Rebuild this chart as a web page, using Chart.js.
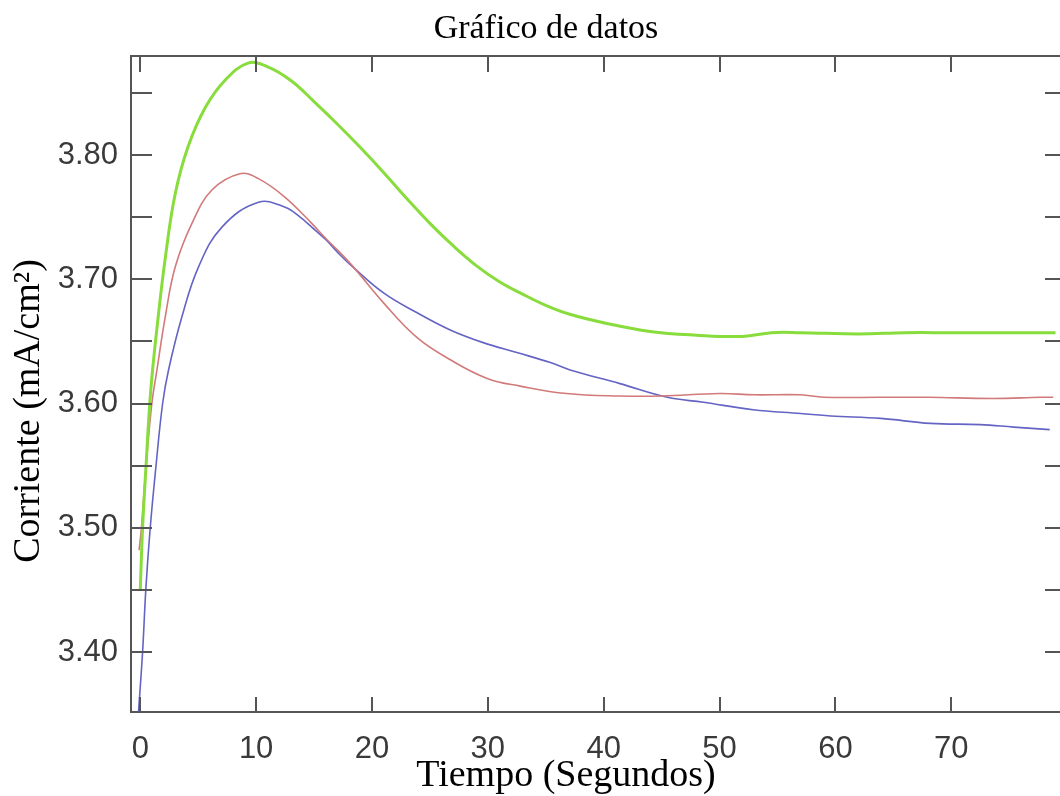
<!DOCTYPE html>
<html lang="es">
<head>
    <meta charset="UTF-8">
    <title>Gráfico de datos</title>
    <script src="https://cdn.jsdelivr.net/npm/chart.js@4.4.0/dist/chart.umd.js"></script>
    <style>
        html, body { margin: 0; padding: 0; background: #fff; }
        #wrap { width: 1060px; height: 796px; }
    </style>
</head>
<body>
    <div id="wrap"><canvas id="chart" width="1060" height="796"></canvas></div>

    <script>
        // Data
        const greenTime = [0, 0.2, 0.5, 0.9, 1.55, 2.2, 3.0, 4.1, 5.6, 7.3, 9.3, 11, 13, 15, 17, 19, 21, 23, 25, 27, 29, 31, 33, 35, 37, 40, 44, 48, 52, 54.5, 57, 62, 66, 70, 74, 79];
        const greenCurrent = [3.45, 3.50, 3.55, 3.61, 3.67, 3.72, 3.768, 3.806, 3.838, 3.86, 3.874, 3.871, 3.86, 3.843, 3.825, 3.806, 3.786, 3.765, 3.745, 3.727, 3.711, 3.698, 3.688, 3.679, 3.672, 3.665, 3.658, 3.655, 3.654, 3.657, 3.657, 3.656, 3.657, 3.657, 3.657, 3.657];

        const redTime = [-0.1, 0.1, 0.5, 1.0, 1.44, 2.16, 3.02, 4.46, 6.2, 8.6, 10.2, 12.5, 14.8, 16, 18.1, 21, 23.9, 26.8, 30, 32.8, 36.8, 41.4, 45, 50, 53, 57, 59, 63.9, 68, 73.6, 77.7, 78.8];
        const redCurrent = [3.482, 3.50, 3.55, 3.60, 3.627, 3.67, 3.71, 3.745, 3.772, 3.785, 3.781, 3.766, 3.745, 3.733, 3.713, 3.681, 3.653, 3.635, 3.62, 3.614, 3.608, 3.606, 3.606, 3.608, 3.607, 3.607, 3.605, 3.605, 3.605, 3.604, 3.605, 3.605];

        const blueTime = [-0.15, 0.2, 0.49, 0.86, 1.36, 1.93, 2.44, 3.6, 5.03, 7.05, 10.2, 12.5, 13.8, 14.8, 16, 17, 18.1, 21, 23.9, 26.8, 29.6, 32.5, 35.4, 37.1, 41.4, 45.5, 48.6, 52.9, 57, 59.6, 63.9, 68.2, 72.5, 75.4, 78.5];
        const blueCurrent = [3.352, 3.40, 3.452, 3.50, 3.55, 3.60, 3.627, 3.67, 3.71, 3.742, 3.762, 3.758, 3.75, 3.742, 3.732, 3.722, 3.712, 3.689, 3.673, 3.659, 3.649, 3.641, 3.633, 3.627, 3.616, 3.605, 3.601, 3.595, 3.592, 3.59, 3.588, 3.584, 3.583, 3.581, 3.579];

        // Tick values
        const timeTicks = [0, 10, 20, 30, 40, 50, 60, 70];
        const currentTicks = [3.40, 3.45, 3.50, 3.55, 3.60, 3.65, 3.70, 3.75, 3.80, 3.85];
        const currentLabels = [3.40, 3.50, 3.60, 3.70, 3.80];

        const toPoints = (xs, ys) => xs.map((x, i) => ({ x: x, y: ys[i] }));

        const axisColor = '#555555';

        // Inward tick marks on all four sides, plus the top frame line and titles
        const frame = {
            id: 'frame',
            afterDatasetsDraw(chart) {
                const { ctx, chartArea: { left, right, top, bottom }, scales: { x, y } } = chart;
                ctx.save();
                ctx.strokeStyle = axisColor;
                ctx.lineWidth = 2;
                ctx.beginPath();
                ctx.moveTo(left, top);
                ctx.lineTo(chart.width, top);
                x.ticks.forEach(t => {
                    const px = Math.round(x.getPixelForValue(t.value));
                    ctx.moveTo(px, bottom);
                    ctx.lineTo(px, bottom - 15);
                    ctx.moveTo(px, top);
                    ctx.lineTo(px, top + 16);
                });
                y.ticks.forEach(t => {
                    const py = Math.round(y.getPixelForValue(t.value));
                    ctx.moveTo(left, py);
                    ctx.lineTo(left + 21, py);
                    ctx.moveTo(chart.width, py);
                    ctx.lineTo(chart.width - 15, py);
                });
                ctx.stroke();

                // titles
                ctx.fillStyle = '#000';
                ctx.textAlign = 'center';
                ctx.textBaseline = 'middle';
                ctx.font = '34px "Liberation Serif", "Times New Roman", serif';
                ctx.fillText('Gráfico de datos', 546, 29);
                ctx.font = '38px "Liberation Serif", "Times New Roman", serif';
                ctx.fillText('Tiempo (Segundos)', 566, 776);
                ctx.translate(29, 411);
                ctx.rotate(-Math.PI / 2);
                ctx.fillText('Corriente (mA/cm²)', 0, 0);
                ctx.restore();
            }
        };

        const lineStyle = { pointRadius: 0, tension: 0.4 };

        new Chart(document.getElementById('chart'), {
            type: 'line',
            data: {
                datasets: [
                    Object.assign({
                        label: 'Verde',
                        data: toPoints(greenTime, greenCurrent),
                        borderColor: '#88dc3c',
                        borderWidth: 3
                    }, lineStyle),
                    Object.assign({
                        label: 'Rojo',
                        data: toPoints(redTime, redCurrent),
                        borderColor: '#d27a7a',
                        borderWidth: 1.6
                    }, lineStyle),
                    Object.assign({
                        label: 'Azul',
                        data: toPoints(blueTime, blueCurrent),
                        borderColor: '#6464c4',
                        borderWidth: 1.6
                    }, lineStyle)
                ]
            },
            options: {
                responsive: false,
                animation: false,
                layout: { padding: { top: 56, right: 1, left: 0, bottom: 0 } },
                plugins: {
                    legend: { display: false },
                    tooltip: { enabled: false },
                    title: { display: false }
                },
                scales: {
                    x: {
                        type: 'linear',
                        min: -0.8,
                        max: 79.3,
                        grid: { display: false, drawTicks: false },
                        border: { display: true, color: axisColor, width: 2 },
                        afterBuildTicks: scale => { scale.ticks = timeTicks.map(v => ({ value: v })); },
                        afterFit: scale => { scale.height = 84; },
                        ticks: {
                            padding: 19,
                            color: '#3a3a3a',
                            font: { family: '"Liberation Sans", Arial, sans-serif', size: 31 },
                            maxRotation: 0
                        }
                    },
                    y: {
                        type: 'linear',
                        min: 3.3517,
                        max: 3.8797,
                        grid: { display: false, drawTicks: false },
                        border: { display: true, color: axisColor, width: 2 },
                        afterBuildTicks: scale => { scale.ticks = currentTicks.map(v => ({ value: v })); },
                        afterFit: scale => { scale.width = 131; },
                        ticks: {
                            padding: 13,
                            color: '#3a3a3a',
                            font: { family: '"Liberation Sans", Arial, sans-serif', size: 31 },
                            callback: v => currentLabels.some(l => Math.abs(l - v) < 1e-6) ? v.toFixed(2) : ''
                        }
                    }
                }
            },
            plugins: [frame]
        });
    </script>
</body>
</html>
